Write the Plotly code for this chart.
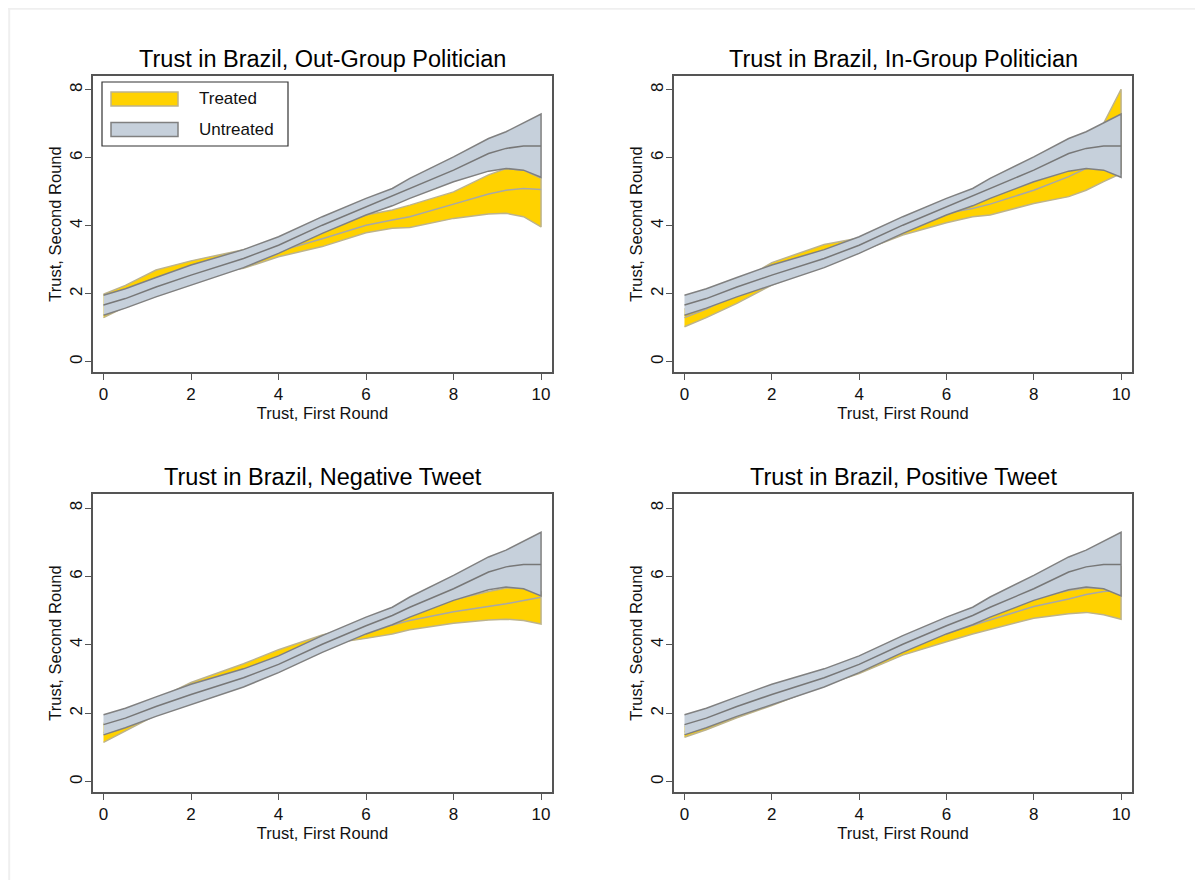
import plotly.graph_objects as go

# first-round trust (x grid where the bands were read)
x_grid = [0, 0.5, 1.2, 2, 3.2, 4, 5, 6, 6.6, 7, 8, 8.8, 9.2, 9.6, 10]

# untreated band (same in every panel)
untreated_upper = [1.96, 2.15, 2.48, 2.85, 3.30, 3.68, 4.27, 4.81, 5.10, 5.40, 6.03, 6.57, 6.77, 7.02, 7.29]
untreated_mean = [1.67, 1.86, 2.20, 2.55, 3.04, 3.43, 4.02, 4.56, 4.86, 5.10, 5.64, 6.13, 6.28, 6.35, 6.35]
untreated_lower = [1.37, 1.58, 1.91, 2.26, 2.77, 3.19, 3.78, 4.32, 4.59, 4.81, 5.30, 5.61, 5.69, 5.64, 5.43]

# treated bands, one per panel
outgroup_upper = [1.99, 2.25, 2.70, 2.97, 3.30, 3.55, 3.97, 4.32, 4.47, 4.61, 5.00, 5.50, 5.69, 5.64, 5.40]
outgroup_mean = [1.65, 1.95, 2.45, 2.75, 3.05, 3.25, 3.62, 4.02, 4.17, 4.27, 4.64, 4.94, 5.05, 5.10, 5.07]
outgroup_lower = [1.30, 1.62, 2.20, 2.50, 2.75, 3.09, 3.39, 3.80, 3.93, 3.95, 4.22, 4.35, 4.37, 4.27, 3.97]

ingroup_upper = [1.55, 1.85, 2.30, 2.92, 3.45, 3.64, 4.15, 4.56, 4.80, 4.95, 5.45, 5.74, 5.94, 7.02, 8.02]
ingroup_mean = [1.30, 1.55, 2.00, 2.60, 3.15, 3.43, 3.95, 4.37, 4.51, 4.64, 5.05, 5.45, 5.69, 6.20, 6.80]
ingroup_lower = [1.03, 1.30, 1.72, 2.26, 2.85, 3.24, 3.73, 4.09, 4.27, 4.32, 4.66, 4.86, 5.05, 5.30, 5.54]

negative_upper = [1.70, 1.95, 2.40, 2.90, 3.45, 3.86, 4.29, 4.62, 4.80, 4.97, 5.32, 5.56, 5.66, 5.66, 5.55]
negative_mean = [1.43, 1.70, 2.15, 2.65, 3.15, 3.55, 4.15, 4.45, 4.58, 4.71, 4.97, 5.12, 5.20, 5.30, 5.39]
negative_lower = [1.15, 1.48, 1.95, 2.40, 2.88, 3.30, 4.00, 4.19, 4.32, 4.44, 4.63, 4.73, 4.75, 4.71, 4.61]

positive_upper = [1.62, 1.85, 2.20, 2.60, 3.15, 3.45, 4.05, 4.50, 4.78, 4.98, 5.37, 5.59, 5.66, 5.66, 6.30]
positive_mean = [1.46, 1.68, 2.03, 2.42, 3.00, 3.30, 3.88, 4.34, 4.58, 4.73, 5.12, 5.34, 5.47, 5.56, 5.60]
positive_lower = [1.30, 1.52, 1.87, 2.23, 2.82, 3.16, 3.70, 4.09, 4.32, 4.46, 4.78, 4.91, 4.95, 4.88, 4.75]

titles = [
    "Trust in Brazil, Out-Group Politician",
    "Trust in Brazil, In-Group Politician",
    "Trust in Brazil, Negative Tweet",
    "Trust in Brazil, Positive Tweet",
]
treated = [
    (outgroup_upper, outgroup_mean, outgroup_lower),
    (ingroup_upper, ingroup_mean, ingroup_lower),
    (negative_upper, negative_mean, negative_lower),
    (positive_upper, positive_mean, positive_lower),
]
legend_labels = ["Treated", "Untreated"]

# page body has an 8px margin, so the figure is a bit smaller than the window
OFF = 8
W, H = 1203 - OFF, 880 - OFF
# plot boxes in screen pixels: (left, right, top, bottom)
boxes = [(93, 552, 76, 372), (674, 1132, 76, 372), (93, 552, 494, 792), (674, 1132, 494, 792)]

YELLOW = "#FFD200"
GREY_FILL = "#C6D0DB"
YELLOW_EDGE = "#BDB38C"
GREY_EDGE = "#808080"
FONT = "Liberation Sans, Arial, sans-serif"


def px(x):
    return (x - OFF) / W


def py(y):
    return 1 - (y - OFF) / H


fig = go.Figure()


def add_band(fig, upper, mean, lower, fill, edge, mid, name, axes):
    xa, ya = axes
    fig.add_trace(
        go.Scatter(
            x=x_grid + x_grid[::-1],
            y=upper + lower[::-1],
            fill="toself",
            fillcolor=fill,
            line=dict(color=edge, width=1.5),
            mode="lines",
            name=name,
            showlegend=False,
            hoverinfo="skip",
            xaxis=xa,
            yaxis=ya,
        )
    )
    fig.add_trace(
        go.Scatter(
            x=x_grid,
            y=mean,
            mode="lines",
            line=dict(color=mid, width=1.5),
            showlegend=False,
            hoverinfo="skip",
            xaxis=xa,
            yaxis=ya,
        )
    )


annotations = []
for i, (title, band, box) in enumerate(zip(titles, treated, boxes)):
    n = "" if i == 0 else str(i + 1)
    axes = ("x" + n, "y" + n)
    add_band(fig, *band, YELLOW, YELLOW_EDGE, "#A8A8A8", "Treated", axes)
    add_band(fig, untreated_upper, untreated_mean, untreated_lower,
             GREY_FILL, GREY_EDGE, "#777777", "Untreated", axes)

    left, right, top, bottom = box
    common = dict(
        showline=True, mirror=True, linecolor="#555555", linewidth=1.6,
        ticks="outside", ticklen=6, tickcolor="#555555", tickwidth=1.3,
        showgrid=False, zeroline=False,
        tickfont=dict(family=FONT, size=17, color="#111111"),
    )
    fig.update_layout({
        "xaxis" + n: dict(
            domain=[px(left), px(right)], anchor="y" + n,
            range=[-0.24, 10.25], tickvals=[0, 2, 4, 6, 8, 10],
            title=dict(text="Trust, First Round", standoff=2,
                       font=dict(family=FONT, size=16.5, color="#111111")),
            **common,
        ),
        "yaxis" + n: dict(
            domain=[py(bottom), py(top)], anchor="x" + n,
            range=[-0.3, 8.41], tickvals=[0, 2, 4, 6, 8], tickangle=-90,
            ticklabelstandoff=-4,
            title=dict(text="Trust, Second Round", standoff=2,
                       font=dict(family=FONT, size=16.5, color="#111111")),
            **common,
        ),
    })
    annotations.append(dict(
        text=title, x=px((left + right) / 2), y=py(top - 17),
        xref="paper", yref="paper", showarrow=False,
        xanchor="center", yanchor="middle",
        font=dict(family=FONT, size=23.5, color="#000000"),
    ))

# legend drawn as a Stata-style key inside the first panel
shapes = [
    dict(type="rect", xref="paper", yref="paper",
         x0=px(102), x1=px(288), y0=py(146), y1=py(82),
         fillcolor="white", line=dict(color="#333333", width=1.2), layer="above"),
]
for label, fill, edge, yc in zip(legend_labels, [YELLOW, GREY_FILL], [YELLOW_EDGE, GREY_EDGE], [99, 129.5]):
    shapes.append(dict(type="rect", xref="paper", yref="paper",
                       x0=px(111), x1=px(178), y0=py(yc + 7), y1=py(yc - 7),
                       fillcolor=fill, line=dict(color=edge, width=1.5), layer="above"))
    annotations.append(dict(
        text=label, x=px(197), y=py(yc), xref="paper", yref="paper",
        showarrow=False, xanchor="left", yanchor="middle",
        font=dict(family=FONT, size=17, color="#111111"),
    ))

shapes += [
    dict(type="line", xref="paper", yref="paper", x0=0, x1=1,
         y0=0.999, y1=0.999, line=dict(color="#EFEFEF", width=2)),
    dict(type="line", xref="paper", yref="paper", x0=0.001, x1=0.001,
         y0=0, y1=1, line=dict(color="#EFEFEF", width=2)),
]

fig.update_layout(
    width=W,
    height=H,
    autosize=False,
    margin={"r": 0, "t": 0, "l": 0, "b": 0},
    paper_bgcolor="white",
    plot_bgcolor="white",
    showlegend=False,
    annotations=annotations,
    shapes=shapes,
)

fig.write_html("out.html")
